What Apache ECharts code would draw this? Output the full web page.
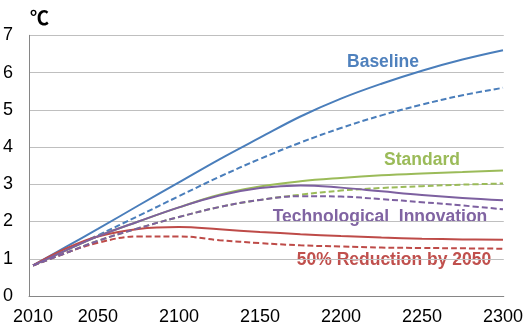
<!DOCTYPE html>
<html>
<head>
<meta charset="utf-8">
<script src="https://cdn.jsdelivr.net/npm/echarts@6/dist/echarts.min.js"></script>
<style>html,body{margin:0;padding:0;background:#fff}#c{width:526px;height:327px}</style>
</head>
<body>
<div id="c"></div>
<script>
var years = [2010, 2030, 2050, 2075, 2100, 2125, 2150, 2175, 2200, 2225, 2250, 2275, 2300];
var xTickLabels = [2010, 2050, 2100, 2150, 2200, 2250, 2300];
var unitLabel = '℃';
var baselineSolid  = [0.82, 1.31, 1.80, 2.43, 3.05, 3.67, 4.25, 4.82, 5.30, 5.70, 6.05, 6.35, 6.60];
var baselineDashed = [0.82, 1.22, 1.63, 2.15, 2.68, 3.20, 3.68, 4.12, 4.51, 4.85, 5.14, 5.39, 5.59];
var standardSolid  = [0.82, 1.22, 1.60, 2.00, 2.38, 2.72, 2.94, 3.08, 3.17, 3.24, 3.29, 3.33, 3.37];
var standardDashed = [0.82, 1.15, 1.48, 1.82, 2.12, 2.39, 2.58, 2.72, 2.83, 2.90, 2.95, 2.99, 3.02];
var techSolid      = [0.82, 1.22, 1.60, 2.00, 2.38, 2.70, 2.90, 2.97, 2.91, 2.81, 2.71, 2.63, 2.57];
var techDashed     = [0.82, 1.15, 1.48, 1.82, 2.12, 2.39, 2.58, 2.68, 2.67, 2.60, 2.52, 2.43, 2.33];
var reductionSolid = [0.82, 1.27, 1.60, 1.80, 1.85, 1.79, 1.72, 1.66, 1.61, 1.57, 1.54, 1.52, 1.51];
var reductionDashed= [0.82, 1.15, 1.43, 1.60, 1.60, 1.50, 1.42, 1.36, 1.33, 1.30, 1.29, 1.28, 1.27];
var seriesNames = ['Baseline', 'Standard', 'Technological  Innovation', '50% Reduction by 2050'];

function pairs(v){ return years.map(function(y,i){ return [y, v[i]]; }); }
var BLUE='#4A7EBB', GREEN='#9BBB59', PURPLE='#7D60A0', RED='#BE4B48';
function line(name, data, color, dashed){
  return {name:name, type:'line', data:pairs(data), smooth:0.4, symbol:'none',
    lineStyle:{color:color, width:2, type: dashed ? [6,3] : 'solid'}, silent:true, animation:false};
}
var FONT = 'Liberation Sans, Arial, sans-serif';
var chart = echarts.init(document.getElementById('c'), null, {renderer:'canvas'});
chart.setOption({
  animation:false,
  grid:{left:26, right:19, top:35.3, bottom:31},
  xAxis:{type:'value', min:2007.5, max:2300.5,
    axisLine:{show:true, onZero:false, lineStyle:{color:'#868686', width:1}},
    axisTick:{show:false}, splitLine:{show:false},
    axisLabel:{customValues:xTickLabels, formatter:function(v){return String(v);}, fontSize:18, color:'#000', fontFamily:FONT, margin:12}},
  yAxis:{type:'value', min:0, max:7, interval:1,
    axisLine:{show:true, lineStyle:{color:'#868686', width:1}},
    axisTick:{show:false},
    splitLine:{show:true, lineStyle:{color:'#BFBFBF', width:1}},
    axisLabel:{fontSize:18, color:'#000', fontFamily:FONT, margin:16}},
  series:[
    line(seriesNames[0], baselineSolid, BLUE, false),
    line(seriesNames[0]+' dashed', baselineDashed, BLUE, true),
    line(seriesNames[1], standardSolid, GREEN, false),
    line(seriesNames[1]+' dashed', standardDashed, GREEN, true),
    line(seriesNames[3], reductionSolid, RED, false),
    line(seriesNames[3]+' dashed', reductionDashed, RED, true),
    line(seriesNames[2], techSolid, PURPLE, false),
    line(seriesNames[2]+' dashed', techDashed, PURPLE, true)
  ],
  graphic:[
    {type:'text', left:30, top:8, style:{text:unitLabel, font:'bold 19px "Noto Sans CJK SC", sans-serif', fill:'#000'}},
    {type:'text', x:383, y:62, style:{text:seriesNames[0], font:'bold 17.5px '+FONT, fill:'#4F81BD', align:'center', verticalAlign:'middle'}},
    {type:'text', x:422, y:160, style:{text:seriesNames[1], font:'bold 17.5px '+FONT, fill:GREEN, align:'center', verticalAlign:'middle'}},
    {type:'text', x:380, y:217, style:{text:seriesNames[2], font:'bold 17.5px '+FONT, fill:'#8064A2', align:'center', verticalAlign:'middle'}},
    {type:'text', x:394, y:260, style:{text:seriesNames[3], font:'bold 17.5px '+FONT, fill:'#C0504D', align:'center', verticalAlign:'middle'}}
  ]
});
</script>
</body>
</html>
